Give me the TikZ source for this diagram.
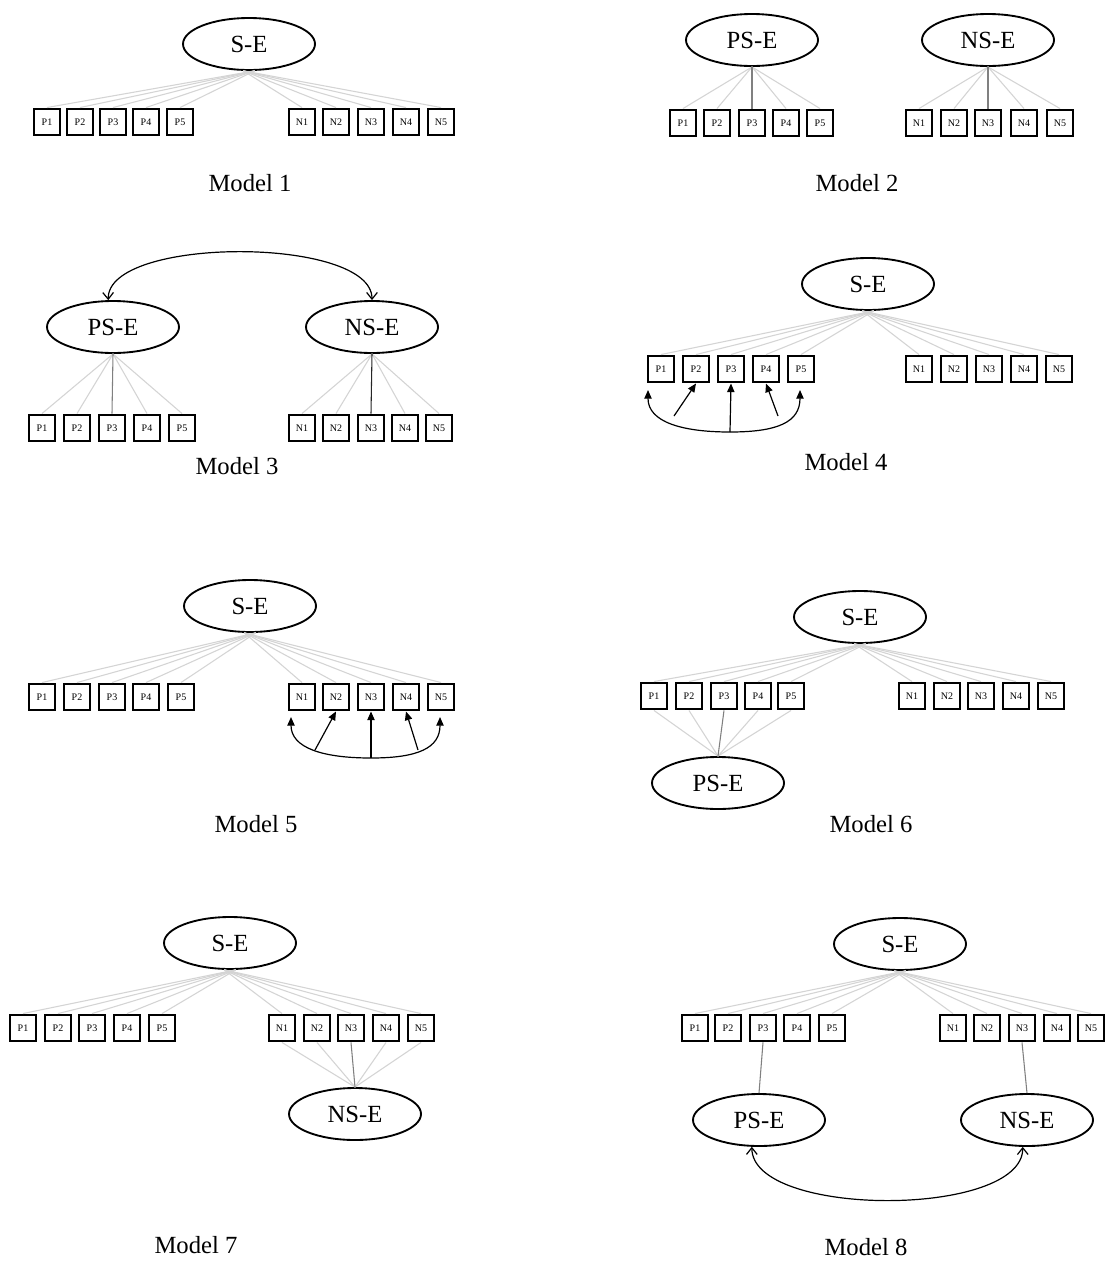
\documentclass[tikz,border=0pt]{standalone}
\usepackage{fontspec}
\setmainfont{Liberation Serif}
\usetikzlibrary{shapes.geometric,arrows.meta,calc}

\begin{document}
\begin{tikzpicture}[x=0.75pt,y=-0.75pt,
  lat/.style={ellipse,draw,line width=1.4pt,minimum width=99pt,minimum height=39pt,inner sep=0pt,font=\fontsize{18.5}{18.5}\selectfont},
  ind/.style={rectangle,draw,line width=1.7pt,minimum size=20pt,inner sep=0pt,font=\fontsize{7.5}{7.5}\selectfont},
  faint/.style={draw=black!17,line width=0.8pt},
  keyload/.style={draw=black!50,line width=0.8pt},
  darkload/.style={draw=black!85,line width=0.8pt},
  covar/.style={line width=0.9pt,{Straight Barb[length=5pt,width=8pt]}-{Straight Barb[length=5pt,width=8pt]}},
  errarc/.style={line width=0.9pt,{Triangle[length=6.5pt,width=5.5pt]}-{Triangle[length=6.5pt,width=5.5pt]}},
  errarrow/.style={line width=0.9pt,-{Triangle[length=6.5pt,width=5.5pt]}},
  modellabel/.style={font=\fontsize{18.5}{18.5}\selectfont}
]
\useasboundingbox[fill=white] (0,0) rectangle (1110,1264);

% ---------------- Model 1 ----------------
\node[lat] (m1se) at (249,44) {S-E};
\foreach \i/\x in {1/47,2/80,3/113,4/146,5/180}{\node[ind] (m1p\i) at (\x,122) {P\i};}
\foreach \i/\x in {1/302,2/336,3/371,4/406,5/441}{\node[ind] (m1n\i) at (\x,122) {N\i};}
\foreach \i in {1,...,5}{
  \draw[faint] (m1se.-78) -- (m1p\i.north);
  \draw[faint] (m1se.-102) -- (m1n\i.north);
}
\node[modellabel] (m1lab) at (250,183) {Model 1};

% ---------------- Model 2 ----------------
\node[lat] (m2ps) at (752,40) {PS-E};
\node[lat] (m2ns) at (988,40) {NS-E};
\foreach \i/\x in {1/683,2/717,3/752,4/786,5/820}{\node[ind] (m2p\i) at (\x,123) {P\i};}
\foreach \i/\x in {1/919,2/954,3/988,4/1024,5/1060}{\node[ind] (m2n\i) at (\x,123) {N\i};}
\foreach \i in {1,2,4,5}{
  \draw[faint] (m2ps.south) -- (m2p\i.north);
  \draw[faint] (m2ns.south) -- (m2n\i.north);
}
\draw[keyload] (m2ps.south) -- (m2p3.north);
\draw[keyload] (m2ns.south) -- (m2n3.north);
\node[modellabel] (m2lab) at (857,183) {Model 2};

% ---------------- Model 3 ----------------
\node[lat] (m3ps) at (113,327) {PS-E};
\node[lat] (m3ns) at (372,327) {NS-E};
\foreach \i/\x in {1/42,2/77,3/112,4/147,5/182}{\node[ind] (m3p\i) at (\x,428) {P\i};}
\foreach \i/\x in {1/302,2/336,3/371,4/405,5/439}{\node[ind] (m3n\i) at (\x,428) {N\i};}
\foreach \i in {1,2,4,5}{
  \draw[faint] (m3ps.south) -- (m3p\i.north);
  \draw[faint] (m3ns.south) -- (m3n\i.north);
}
\draw[keyload] (m3ps.south) -- (m3p3.north);
\draw[darkload] (m3ns.south) -- (m3n3.north);
\draw[covar] (m3ps.100) .. controls (107,236) and (372,236) .. (m3ns.north);
\node[modellabel] (m3lab) at (237,466) {Model 3};

% ---------------- Model 4 ----------------
\node[lat] (m4se) at (868,284) {S-E};
\foreach \i/\x in {1/661,2/696,3/731,4/766,5/801}{\node[ind] (m4p\i) at (\x,369) {P\i};}
\foreach \i/\x in {1/919,2/954,3/989,4/1024,5/1059}{\node[ind] (m4n\i) at (\x,369) {N\i};}
\foreach \i in {1,...,5}{
  \draw[faint] (m4se.-78) -- (m4p\i.north);
  \draw[faint] (m4se.-102) -- (m4n\i.north);
}
\coordinate (m4l) at (648,390);
\coordinate (m4b) at (730,432);
\coordinate (m4r) at (800,390);
\coordinate (m4t2) at (674,416);
\coordinate (m4t4) at (778,416);
\draw[errarc] (m4l) .. controls (648,422) and (682,432) .. (m4b) .. controls (778,432) and (800,422) .. (m4r);
\draw[errarrow] (m4b) -- (m4p3.south);
\draw[errarrow] (m4t2) -- (m4p2.south);
\draw[errarrow] (m4t4) -- (m4p4.south);
\node[modellabel] (m4lab) at (846,462) {Model 4};

% ---------------- Model 5 ----------------
\node[lat] (m5se) at (250,606) {S-E};
\foreach \i/\x in {1/42,2/77,3/112,4/146,5/181}{\node[ind] (m5p\i) at (\x,697) {P\i};}
\foreach \i/\x in {1/302,2/336,3/371,4/406,5/441}{\node[ind] (m5n\i) at (\x,697) {N\i};}
\foreach \i in {1,...,5}{
  \draw[faint] (m5se.-78) -- (m5p\i.north);
  \draw[faint] (m5se.-102) -- (m5n\i.north);
}
\coordinate (m5l) at (291,717);
\coordinate (m5b) at (371,758);
\coordinate (m5r) at (440,717);
\coordinate (m5t2) at (315,750);
\coordinate (m5t4) at (418,750);
\draw[errarc] (m5l) .. controls (291,748) and (323,758) .. (m5b) .. controls (418,758) and (440,748) .. (m5r);
\draw[errarrow] (m5b) -- (m5n3.south);
\draw[errarrow] (m5t2) -- (m5n2.south);
\draw[errarrow] (m5t4) -- (m5n4.south);
\node[modellabel] (m5lab) at (256,824) {Model 5};

% ---------------- Model 6 ----------------
\node[lat] (m6se) at (860,617) {S-E};
\foreach \i/\x in {1/654,2/689,3/724,4/758,5/791}{\node[ind] (m6p\i) at (\x,696) {P\i};}
\foreach \i/\x in {1/912,2/947,3/981,4/1016,5/1051}{\node[ind] (m6n\i) at (\x,696) {N\i};}
\foreach \i in {1,...,5}{
  \draw[faint] (m6se.-78) -- (m6p\i.north);
  \draw[faint] (m6se.-102) -- (m6n\i.north);
}
\node[lat] (m6ps) at (718,783) {PS-E};
\foreach \i in {1,2,4,5}{\draw[faint] (m6ps.north) -- (m6p\i.south);}
\draw[keyload] (m6ps.north) -- (m6p3.south);
\node[modellabel] (m6lab) at (871,824) {Model 6};

% ---------------- Model 7 ----------------
\node[lat] (m7se) at (230,943) {S-E};
\foreach \i/\x in {1/23,2/58,3/92,4/127,5/162}{\node[ind] (m7p\i) at (\x,1028) {P\i};}
\foreach \i/\x in {1/282,2/317,3/351,4/386,5/421}{\node[ind] (m7n\i) at (\x,1028) {N\i};}
\foreach \i in {1,...,5}{
  \draw[faint] (m7se.-78) -- (m7p\i.north);
  \draw[faint] (m7se.-102) -- (m7n\i.north);
}
\node[lat] (m7ns) at (355,1114) {NS-E};
\foreach \i in {1,2,4,5}{\draw[faint] (m7ns.north) -- (m7n\i.south);}
\draw[keyload] (m7ns.north) -- (m7n3.south);
\node[modellabel] (m7lab) at (196,1245) {Model 7};

% ---------------- Model 8 ----------------
\node[lat] (m8se) at (900,944) {S-E};
\foreach \i/\x in {1/695,2/728,3/763,4/797,5/832}{\node[ind] (m8p\i) at (\x,1028) {P\i};}
\foreach \i/\x in {1/953,2/987,3/1022,4/1057,5/1091}{\node[ind] (m8n\i) at (\x,1028) {N\i};}
\foreach \i in {1,...,5}{
  \draw[faint] (m8se.-78) -- (m8p\i.north);
  \draw[faint] (m8se.-102) -- (m8n\i.north);
}
\node[lat] (m8ps) at (759,1120) {PS-E};
\node[lat] (m8ns) at (1027,1120) {NS-E};
\draw[keyload] (m8p3.south) -- (m8ps.north);
\draw[keyload] (m8n3.south) -- (m8ns.north);
\draw[covar] (m8ps.-105) .. controls (752,1218) and (1023,1218) .. (m8ns.-99);
\node[modellabel] (m8lab) at (866,1247) {Model 8};
\end{tikzpicture}
\end{document}
